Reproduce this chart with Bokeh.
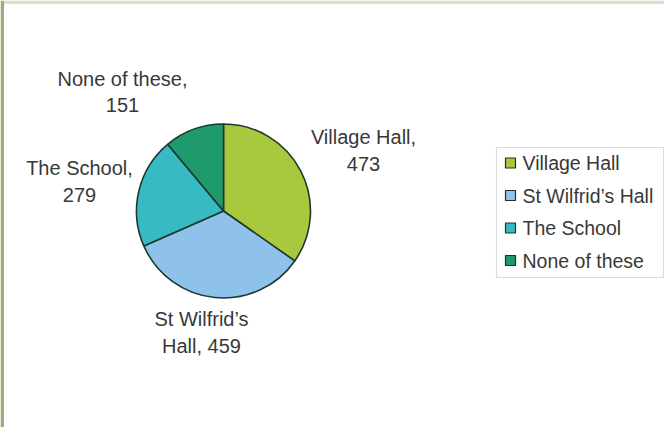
import math
from bokeh.plotting import figure
from bokeh.models import Range1d, BoxAnnotation, ColumnDataSource
from bokeh.core.properties import value
from bokeh.embed import file_html
from bokeh.resources import INLINE

# ---- data ----
categories = ["Village Hall", "St Wilfrid\u2019s Hall", "The School", "None of these"]
counts = [473, 459, 279, 151]
pie_labels = ["Village Hall,\n473", "St Wilfrid\u2019s\nHall, 459", "The School,\n279", "None of these,\n151"]
colors = ["#a8c83e", "#8fc2ea", "#38bac4", "#1f9a6c"]

# ---- layout (x = picture x, y = H - picture y) ----
W, H = 664, 427
def Y(py):
    return H - py

cx, cy, r = 223, Y(210.5), 87
label_x = [363, 201, 79, 122]
label_y = [Y(150), Y(332), Y(181), Y(91.5)]
leg_sw_x = 510
leg_txt_x = 522
leg_y = [Y(162.5 + 32.5 * i) for i in range(len(categories))]

total = float(sum(counts))
starts, ends = [], []
cum = 0.0
for v in counts:
    starts.append(math.pi / 2 - cum / total * 2 * math.pi)
    cum += v
    ends.append(math.pi / 2 - cum / total * 2 * math.pi)

p = figure(width=W, height=H, x_range=Range1d(0, W), y_range=Range1d(0, H),
           output_backend="svg", toolbar_location=None, min_border=0)
p.axis.visible = False
p.grid.visible = False
p.outline_line_color = None
p.background_fill_color = "white"
p.border_fill_color = "white"

# frame strips (left olive, top beige)
p.add_layout(BoxAnnotation(left=0, right=3.5, bottom=0, top=H, fill_color="#a3a878",
                           fill_alpha=1, line_color=None, level="underlay"))
p.add_layout(BoxAnnotation(left=3.5, right=W, bottom=Y(3.5), top=H, fill_color="#dfdfc8",
                           fill_alpha=1, line_color=None, level="underlay"))

src = ColumnDataSource(dict(cat=categories, val=counts, start=starts, end=ends, color=colors,
                            lab=pie_labels, lx=label_x, ly=label_y,
                            sx=[leg_sw_x] * len(categories), tx=[leg_txt_x] * len(categories), legy=leg_y))

p.wedge(x=cx, y=cy, radius=r, start_angle="start", end_angle="end", direction="clock",
        fill_color="color", line_color="#1c3a2c", line_width=1.6, source=src)

p.text(x="lx", y="ly", text="lab", source=src, text_align="center", text_baseline="middle",
       text_font=value("Liberation Sans"), text_font_size="20px", text_color="#383838",
       text_line_height=1.2)

# legend box
p.add_layout(BoxAnnotation(left=496, right=663, bottom=Y(277), top=Y(147),
                           fill_color="white", fill_alpha=1, line_color="#8a8a8a", line_width=1.2,
                           level="underlay"))
p.rect(x="sx", y="legy", width=10, height=10, fill_color="color", line_color="#2a2a2a",
       line_width=1.2, source=src)
p.text(x="tx", y="legy", text="cat", source=src, text_align="left", text_baseline="middle",
       text_font=value("Liberation Sans"), text_font_size="19.5px", text_color="#383838")

open("out.html", "w").write(file_html(p, INLINE))
